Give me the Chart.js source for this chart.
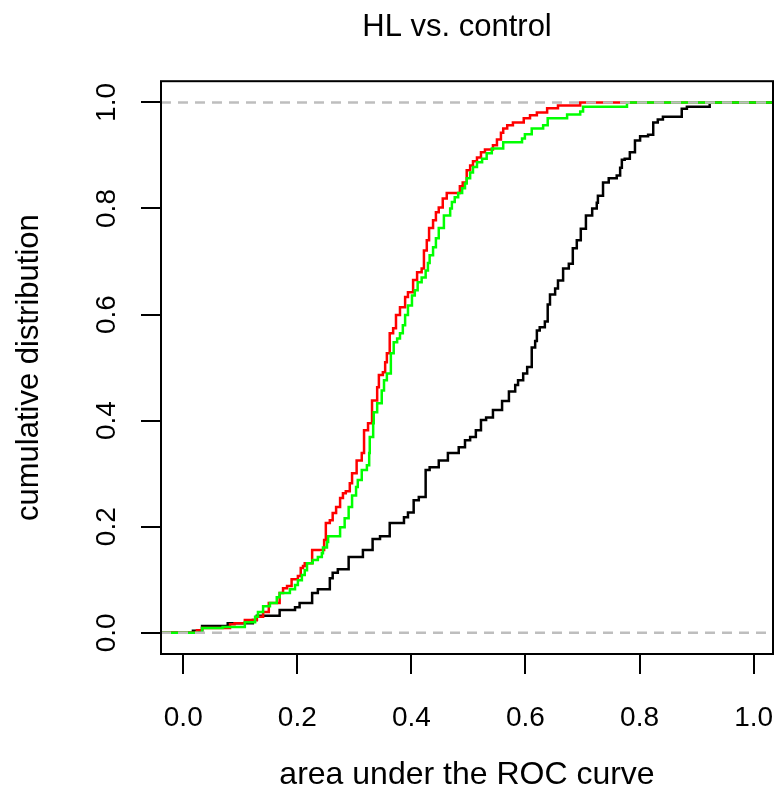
<!DOCTYPE html>
<html>
<head>
<meta charset="utf-8">
<title>HL vs. control</title>
<script src="https://cdn.jsdelivr.net/npm/chart.js@4/dist/chart.umd.min.js"></script>
<style>
    html, body { margin: 0; padding: 0; background: #ffffff; }
    #chartBox { width: 778px; height: 805px; }
</style>
</head>
<body>
<div id="chartBox"><canvas id="ecdfChart" width="778" height="805"></canvas></div>
<script>
// axis limits, R style (data range padded by 4 %)
const xAxisMin = -0.039;
const xAxisMax = 1.034;
const yAxisMin = -0.04;
const yAxisMax = 1.04;

const xTicks = [0.0, 0.2, 0.4, 0.6, 0.8, 1.0];
const xTickLabels = ["0.0", "0.2", "0.4", "0.6", "0.8", "1.0"];
const yTicks = [0.0, 0.2, 0.4, 0.6, 0.8, 1.0];
const yTickLabels = ["0.0", "0.2", "0.4", "0.6", "0.8", "1.0"];

// grey dashed reference levels
const referenceLevels = [0, 1];

// black curve: step positions (AUC) and cumulative value after each step
const blackX = [0.017, 0.033, 0.078, 0.122, 0.129, 0.169, 0.196, 0.204, 0.226, 0.236, 0.257, 0.262, 0.271, 0.290, 0.315, 0.332, 0.345, 0.362, 0.387, 0.394, 0.404, 0.413, 0.425, 0.432, 0.448, 0.464, 0.483, 0.494, 0.503, 0.513, 0.522, 0.531, 0.543, 0.559, 0.571, 0.582, 0.587, 0.596, 0.603, 0.611, 0.617, 0.620, 0.625, 0.634, 0.639, 0.643, 0.652, 0.657, 0.666, 0.676, 0.683, 0.690, 0.697, 0.706, 0.717, 0.725, 0.727, 0.736, 0.746, 0.760, 0.766, 0.769, 0.774, 0.783, 0.792, 0.801, 0.815, 0.824, 0.832, 0.841, 0.874, 0.883, 0.923];
const blackY = [0.004, 0.013, 0.018, 0.024, 0.032, 0.043, 0.048, 0.056, 0.075, 0.082, 0.103, 0.113, 0.120, 0.143, 0.156, 0.177, 0.182, 0.207, 0.218, 0.227, 0.250, 0.256, 0.307, 0.312, 0.325, 0.339, 0.350, 0.363, 0.369, 0.382, 0.401, 0.406, 0.420, 0.437, 0.455, 0.467, 0.476, 0.489, 0.501, 0.538, 0.550, 0.570, 0.576, 0.587, 0.619, 0.638, 0.649, 0.664, 0.687, 0.696, 0.725, 0.740, 0.762, 0.787, 0.800, 0.811, 0.824, 0.849, 0.857, 0.862, 0.877, 0.892, 0.894, 0.906, 0.928, 0.936, 0.939, 0.962, 0.968, 0.973, 0.988, 0.992, 1.0];

// red curve
const redX = [0.024, 0.033, 0.082, 0.090, 0.108, 0.129, 0.140, 0.150, 0.169, 0.175, 0.182, 0.190, 0.201, 0.206, 0.210, 0.213, 0.226, 0.247, 0.250, 0.257, 0.262, 0.268, 0.275, 0.280, 0.285, 0.292, 0.296, 0.304, 0.313, 0.317, 0.324, 0.331, 0.340, 0.343, 0.350, 0.354, 0.357, 0.362, 0.368, 0.373, 0.380, 0.389, 0.394, 0.403, 0.410, 0.418, 0.422, 0.427, 0.431, 0.438, 0.443, 0.448, 0.455, 0.462, 0.485, 0.490, 0.497, 0.503, 0.508, 0.515, 0.522, 0.529, 0.543, 0.550, 0.557, 0.561, 0.568, 0.578, 0.597, 0.608, 0.620, 0.638, 0.657, 0.696];
const redY = [0.005, 0.009, 0.016, 0.018, 0.024, 0.030, 0.039, 0.056, 0.075, 0.084, 0.088, 0.101, 0.107, 0.122, 0.126, 0.131, 0.156, 0.175, 0.207, 0.212, 0.226, 0.237, 0.254, 0.263, 0.267, 0.282, 0.301, 0.325, 0.339, 0.382, 0.395, 0.438, 0.463, 0.486, 0.491, 0.510, 0.527, 0.565, 0.574, 0.599, 0.614, 0.633, 0.642, 0.665, 0.680, 0.687, 0.721, 0.740, 0.763, 0.778, 0.793, 0.802, 0.819, 0.829, 0.842, 0.849, 0.872, 0.881, 0.889, 0.896, 0.906, 0.911, 0.919, 0.930, 0.943, 0.951, 0.957, 0.962, 0.970, 0.976, 0.981, 0.989, 0.994, 1.0];

// green curve
const greenX = [0.033, 0.069, 0.108, 0.126, 0.131, 0.140, 0.152, 0.164, 0.169, 0.187, 0.196, 0.201, 0.208, 0.213, 0.217, 0.227, 0.236, 0.243, 0.245, 0.252, 0.254, 0.275, 0.283, 0.290, 0.296, 0.303, 0.306, 0.313, 0.322, 0.326, 0.327, 0.333, 0.334, 0.340, 0.348, 0.352, 0.357, 0.364, 0.369, 0.375, 0.380, 0.385, 0.389, 0.394, 0.401, 0.406, 0.411, 0.418, 0.425, 0.429, 0.432, 0.438, 0.443, 0.448, 0.457, 0.468, 0.471, 0.476, 0.482, 0.489, 0.494, 0.497, 0.503, 0.508, 0.515, 0.524, 0.532, 0.541, 0.561, 0.594, 0.599, 0.611, 0.631, 0.639, 0.673, 0.696, 0.701, 0.778];
const greenY = [0.009, 0.011, 0.020, 0.030, 0.039, 0.050, 0.056, 0.067, 0.075, 0.082, 0.090, 0.099, 0.109, 0.118, 0.131, 0.137, 0.143, 0.150, 0.161, 0.171, 0.182, 0.199, 0.216, 0.237, 0.259, 0.275, 0.288, 0.307, 0.316, 0.339, 0.369, 0.395, 0.416, 0.433, 0.457, 0.476, 0.489, 0.527, 0.548, 0.555, 0.565, 0.580, 0.599, 0.617, 0.636, 0.646, 0.661, 0.670, 0.683, 0.697, 0.712, 0.727, 0.744, 0.763, 0.787, 0.800, 0.812, 0.821, 0.829, 0.838, 0.847, 0.857, 0.868, 0.878, 0.887, 0.894, 0.904, 0.913, 0.925, 0.932, 0.940, 0.951, 0.957, 0.970, 0.977, 0.983, 0.992, 1.0];

const fontFamily = "'Liberation Sans', Arial, Helvetica, sans-serif";

// ecdf is flat at 0 before the first step and flat at 1 after the last one
const toStepPoints = (xs, ys) =>
{
    const points = [{x: xAxisMin, y: 0}];
    xs.forEach((x, i) =>
    {
        points.push({x: x, y: ys[i]});
    });
    points.push({x: xAxisMax, y: ys[ys.length - 1]});
    return points;
};

const curveDataset = (xs, ys, colour, order) =>
{
    return {
        data: toStepPoints(xs, ys),
        borderColor: colour,
        borderWidth: 2.5,
        stepped: 'before',
        pointRadius: 0,
        fill: false,
        order: order
    };
};

const referenceDatasets = referenceLevels.map(level =>
{
    return {
        data: [{x: xAxisMin, y: level}, {x: xAxisMax, y: level}],
        borderColor: '#bebebe',
        borderWidth: 2.5,
        borderDash: [10, 7],
        pointRadius: 0,
        fill: false,
        order: 0
    };
});

// R draws box() last, on top of everything
const plotBox = {
    id: 'plotBox',
    afterLayout: (chart) =>
    {
        // main title sits a little left of the plot centre in the original
        chart.titleBlock.left -= 10;
        chart.titleBlock.right -= 10;
    },
    afterDraw: (chart) =>
    {
        const {ctx, chartArea} = chart;
        ctx.save();
        ctx.strokeStyle = '#000000';
        ctx.lineWidth = 2;
        ctx.strokeRect(chartArea.left, chartArea.top, chartArea.right - chartArea.left, chartArea.bottom - chartArea.top);
        ctx.restore();
    }
};

new Chart(document.getElementById('ecdfChart'), {
    type: 'line',
    data: {
        datasets: [
            ...referenceDatasets,
            curveDataset(greenX, greenY, '#00ff00', 1),
            curveDataset(redX, redY, '#ff0000', 2),
            curveDataset(blackX, blackY, '#000000', 3)
        ]
    },
    options: {
        responsive: false,
        devicePixelRatio: 1,
        animation: false,
        layout: {
            padding: {top: 0, left: 0, right: 5, bottom: 0}
        },
        plugins: {
            legend: {display: false},
            tooltip: {enabled: false},
            title: {
                display: true,
                text: 'HL vs. control',
                fullSize: false,
                color: '#000000',
                font: {family: fontFamily, size: 31, weight: 'normal', lineHeight: 1.2},
                padding: {top: 9, bottom: 35}
            }
        },
        scales: {
            x: {
                type: 'linear',
                min: xAxisMin,
                max: xAxisMax,
                afterBuildTicks: (scale) =>
                {
                    scale.ticks = xTicks.map(v => ({value: v}));
                },
                afterFit: (scale) =>
                {
                    scale.height = 151;
                    scale.paddingLeft = 0;
                    scale.paddingRight = 0;
                },
                border: {display: false},
                grid: {
                    display: true,
                    drawOnChartArea: false,
                    drawTicks: true,
                    tickLength: 20,
                    color: '#000000',
                    lineWidth: 2
                },
                ticks: {
                    color: '#000000',
                    padding: 27,
                    maxRotation: 0,
                    autoSkip: false,
                    font: {family: fontFamily, size: 28, lineHeight: 1.2},
                    callback: (value, index) => xTickLabels[index]
                },
                title: {
                    display: true,
                    text: 'area under the ROC curve',
                    color: '#000000',
                    font: {family: fontFamily, size: 32, lineHeight: 1.2},
                    padding: {top: 0, bottom: 11}
                }
            },
            y: {
                type: 'linear',
                min: yAxisMin,
                max: yAxisMax,
                afterBuildTicks: (scale) =>
                {
                    scale.ticks = yTicks.map(v => ({value: v}));
                },
                afterFit: (scale) =>
                {
                    scale.width = 161;
                    scale.paddingTop = 0;
                    scale.paddingBottom = 0;
                },
                border: {display: false},
                grid: {
                    display: true,
                    drawOnChartArea: false,
                    drawTicks: true,
                    tickLength: 20,
                    color: '#000000',
                    lineWidth: 2
                },
                ticks: {
                    color: '#000000',
                    padding: 14,
                    minRotation: 90,
                    maxRotation: 90,
                    crossAlign: 'center',
                    autoSkip: false,
                    font: {family: fontFamily, size: 28, lineHeight: 1.2},
                    callback: (value, index) => yTickLabels[index]
                },
                title: {
                    display: true,
                    text: 'cumulative distribution',
                    color: '#000000',
                    font: {family: fontFamily, size: 31, lineHeight: 1.2},
                    padding: {top: 11, bottom: 0}
                }
            }
        }
    },
    plugins: [plotBox]
});
</script>
</body>
</html>
